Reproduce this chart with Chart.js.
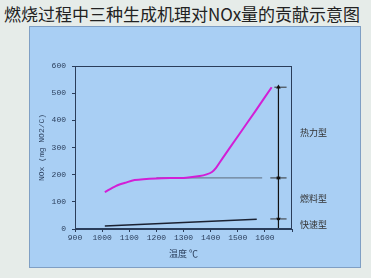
<!DOCTYPE html>
<html>
<head>
<meta charset="utf-8">
<script src="https://cdn.jsdelivr.net/npm/chart.js@4.4.1/dist/chart.umd.min.js"></script>
<style>
  body { margin: 0; width: 371px; height: 278px; background: #e6ece9; position: relative; overflow: hidden; }
  #title { position: absolute; left: 4px; top: 1px; font: 17px 'Noto Sans CJK SC'; color: #222; white-space: nowrap; }
  #panel { position: absolute; left: 29px; top: 26px; width: 330px; height: 240px; background: #a9cff4; border: 1px solid #7f9fc4; }
  canvas { display: block; }
</style>
</head>
<body>
<div id="title">燃烧过程中三种生成机理对NOx量的贡献示意图</div>
<div id="panel"><canvas id="c" width="330" height="240"></canvas></div>
<script>
// thermal (magenta) curve
const thermalTemps = [1010, 1050, 1085, 1120, 1200, 1310, 1360, 1385, 1405, 1420, 1445, 1505, 1565, 1625];
const thermalNOx = [136, 158, 170, 180, 186, 189, 195, 201, 210, 225, 262, 348, 434, 522];

// fuel level (grey) and prompt (black) lines
const fuelTemps = [1200, 1590];
const fuelNOx = [188, 188];
const promptTemps = [1010, 1570];
const promptNOx = [11, 36];

// bracket on the right
const bracketX = 1650;
const bracketLevels = [522, 188, 37, 0];
const bracketTickFrom = [1635, 1620, 1620];
const bracketTickTo = [1680, 1680, 1680];
const bracketLabels = ['热力型', '燃料型', '快速型'];
const bracketLabelY = [354, 111, 17];

const xMin = 900, xMax = 1700;
const yMin = 0, yMax = 600;

const AXIS = '#2a3d5a';
const tickFont = { family: 'Liberation Mono', size: 8 };

const pts = (xs, ys) => xs.map((x, i) => ({ x, y: ys[i] }));

const datasets = [
    { data: pts(thermalTemps, thermalNOx), borderColor: '#d21fd6', borderWidth: 2, tension: 0.3, pointRadius: 0 },
    { data: pts(fuelTemps, fuelNOx), borderColor: '#6d7f93', borderWidth: 1.2, pointRadius: 0 },
    { data: pts(promptTemps, promptNOx), borderColor: '#1b2233', borderWidth: 1.5, pointRadius: 0 }
];

// vertical double arrows between bracket levels
for (let i = 0; i < bracketLevels.length - 1; i++) {
    datasets.push({
        data: [{ x: bracketX, y: bracketLevels[i] }, { x: bracketX, y: bracketLevels[i + 1] }],
        borderColor: '#111', borderWidth: 1.2,
        pointStyle: 'triangle', pointRotation: [0, 180],
        pointRadius: i === 2 ? 2 : 2.6, pointBackgroundColor: '#111', pointBorderWidth: 0
    });
}
// horizontal bracket ticks
for (let i = 0; i < bracketTickFrom.length; i++) {
    datasets.push({
        data: [{ x: bracketTickFrom[i], y: bracketLevels[i] }, { x: bracketTickTo[i], y: bracketLevels[i] }],
        borderColor: '#333', borderWidth: 1, pointRadius: 0
    });
}

const frameAndLabels = {
    id: 'frameAndLabels',
    afterDatasetsDraw(chart) {
        const { ctx, chartArea, scales } = chart;
        ctx.save();
        ctx.strokeStyle = AXIS;
        ctx.lineWidth = 1;
        ctx.strokeRect(chartArea.left + 0.5, chartArea.top + 0.5, chartArea.width - 1, chartArea.height - 1);
        ctx.fillStyle = '#333';
        ctx.font = "9px 'Noto Sans CJK SC'";
        ctx.textBaseline = 'middle';
        bracketLabels.forEach((t, i) => {
            ctx.fillText(t, chartArea.right + 8, scales.y.getPixelForValue(bracketLabelY[i]));
        });
        ctx.restore();
    }
};

new Chart(document.getElementById('c'), {
    type: 'scatter',
    data: { datasets: datasets.map(d => Object.assign({ showLine: true, fill: false }, d)) },
    options: {
        responsive: false,
        devicePixelRatio: 1,
        animation: false,
        layout: { padding: { top: 39, right: 68, left: 7, bottom: 0 } },
        plugins: { legend: { display: false }, tooltip: { enabled: false } },
        scales: {
            x: {
                type: 'linear', min: xMin, max: xMax,
                afterFit: s => { s.height = 38; },
                grid: { drawOnChartArea: false, drawTicks: true, tickLength: 3, color: AXIS },
                border: { color: AXIS },
                ticks: { stepSize: 100, padding: 1, color: '#2b3f5c', font: tickFont, maxRotation: 0,
                         callback: v => (v === xMax ? '' : v) },
                title: { display: true, text: '温度 ℃', color: '#2b3f5c',
                         font: { family: 'Noto Sans CJK SC', size: 9 }, padding: { top: 2, bottom: 8 } }
            },
            y: {
                min: yMin, max: yMax,
                afterFit: s => { s.width = 38; },
                grid: { drawOnChartArea: false, drawTicks: true, tickLength: 3, color: AXIS },
                border: { color: AXIS },
                ticks: { stepSize: 100, padding: 6, color: '#2b3f5c', font: tickFont },
                title: { display: true, text: 'NOx (mg NO2/C)', color: '#2b3f5c', font: tickFont, padding: 0 }
            }
        }
    },
    plugins: [frameAndLabels]
});
</script>
</body>
</html>
